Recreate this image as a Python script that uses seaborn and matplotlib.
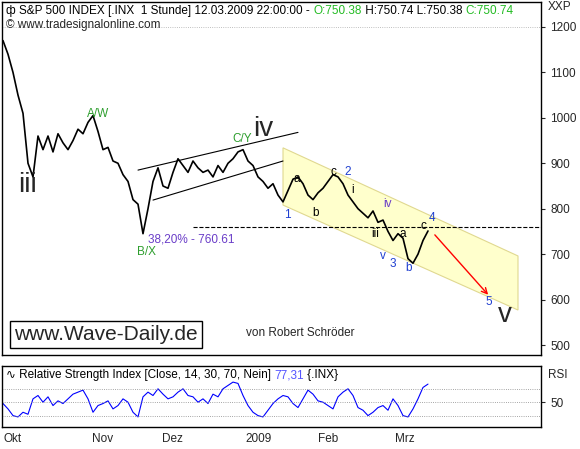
import numpy as np
import matplotlib.pyplot as plt
import seaborn as sns
from matplotlib.patches import Polygon

# hourly-ish closes of S&P 500, Oct 2008 - Mar 2009
closes = [1170, 1140, 1100, 1050, 1010, 900, 870, 960, 930, 960, 925, 965, 945, 930, 950,
          975, 965, 990, 1005, 970, 930, 935, 905, 900, 875, 860, 820, 810, 745, 800,
          860, 890, 850, 845, 880, 910, 895, 880, 905, 890, 880, 885, 870, 895, 880,
          900, 910, 925, 930, 905, 895, 870, 860, 845, 855, 830, 815, 840, 865, 870,
          855, 830, 820, 835, 845, 860, 875, 870, 855, 830, 815, 800, 790, 780, 795,
          770, 775, 750, 730, 745, 735, 690, 680, 700, 730, 751]
rsi = [48, 40, 30, 28, 35, 32, 55, 60, 50, 58, 45, 52, 48, 55, 62, 65, 68, 55, 35, 45,
       48, 52, 40, 45, 55, 50, 35, 28, 58, 65, 60, 70, 62, 55, 58, 65, 70, 60, 58, 50,
       55, 48, 62, 58, 70, 75, 80, 78, 60, 45, 35, 30, 28, 38, 48, 55, 60, 58, 48, 42,
       55, 68, 62, 52, 50, 45, 40, 58, 65, 70, 60, 42, 38, 30, 35, 42, 45, 38, 55, 45,
       30, 28, 40, 55, 72, 77]
month_labels = ['Okt', 'Nov', 'Dez', '2009', 'Feb', 'Mrz']
month_pos = [0, 17.8, 31.8, 48.4, 63, 78.4]
fib_level = 760.61

sns.set_style('white')
plt.rcParams['font.family'] = ['Liberation Sans', 'DejaVu Sans']
fig = plt.figure(figsize=(5.8, 4.49), dpi=100)
ax = fig.add_axes([2/580, 1-355/449, 539/580, 353/449])
ax2 = fig.add_axes([2/580, 1-427/449, 539/580, 61/449])
x = np.arange(len(closes))
fs = 8.5


def chain(axis, y, parts):
    # write coloured pieces one after another on one line
    fig.canvas.draw()
    r = fig.canvas.get_renderer()
    xpos = 0.008
    inv = axis.transAxes.inverted()
    for txt, col in parts:
        t = axis.text(xpos, y, txt, transform=axis.transAxes, fontsize=fs, va='center', color=col)
        bb = t.get_window_extent(r)
        xpos = inv.transform((bb.x1, bb.y0))[0]


# yellow channel
ax.add_patch(Polygon([(56, 934), (103, 696), (103, 577), (56, 808)],
                     closed=True, facecolor='#ffffcc', edgecolor='#e0d890', lw=0.8, zorder=0))
sns.lineplot(x=x, y=closes, ax=ax, color='black', lw=1.2)
# triangle lines
ax.plot([27, 59], [885, 968], color='black', lw=0.8)
ax.plot([30, 56], [819, 905], color='black', lw=0.8)
ax.plot([38, 108], [fib_level, fib_level], color='black', lw=0.8, ls='--')
ax.annotate('', xy=(97.4, 606), xytext=(86, 747),
            arrowprops=dict(arrowstyle='->', color='red', lw=1))

ax.text(4.8, 852, 'iii', fontsize=20, ha='center', va='center')
ax.text(52, 975, 'iv', fontsize=20, ha='center', va='center')
ax.text(100.4, 566, 'v', fontsize=20, ha='center', va='center')
ax.text(29, 733, '38,20% - 760.61', fontsize=fs, color='#6a3dc8', va='center')
ax.text(59.5, 520, 'von Robert Schröder', fontsize=fs, ha='center')
ax.text(2.3, 523, 'www.Wave-Daily.de', fontsize=15, va='center',
        bbox=dict(facecolor='white', edgecolor='black', pad=3))
green = '#2e9e2e'
blue = '#1f3fd0'
labels = [(19, 1008, 'A/W', green), (28.8, 705, 'B/X', green), (47.8, 953, 'C/Y', green),
          (56.8, 786, '1', blue), (58.8, 865, 'a', 'black'), (62.6, 790, 'b', 'black'),
          (66, 880, 'c', 'black'), (69, 880, '2', blue), (70, 842, 'i', 'black'),
          (74.4, 744, 'iii', 'black'), (76.8, 810, 'iv', '#6a3dc8'), (76, 697, 'v', blue),
          (78, 679, '3', blue), (80, 745, 'a', 'black'), (81.2, 670, 'b', blue),
          (84, 762, 'c', 'black'), (85.8, 780, '4', blue), (97.2, 595, '5', blue)]
for lx, ly, t, c in labels:
    ax.text(lx, ly, t, fontsize=fs, color=c, ha='center', va='center')

ax.set_xlim(-0.2, 107.6)
ax.set_ylim(478, 1255)
ax.set_yticks(range(500, 1201, 100))
ax.yaxis.tick_right()
ax.set_xticks([])
ax.axhline(1200, color='#aaaaaa', lw=0.6, ls=':')
fig.text(548/580, 1-7/449, 'XXP', fontsize=fs, va='center')

sns.lineplot(x=x, y=rsi, ax=ax2, color='blue', lw=0.8)
for lv in (30, 50, 70):
    ax2.axhline(lv, color='#888888', lw=0.6, ls=':')
ax2.set_xlim(-0.2, 107.6)
ax2.set_ylim(13, 104)
ax2.set_yticks([50])
ax2.yaxis.tick_right()
ax2.set_xticks(month_pos)
ax2.set_xticklabels(month_labels, ha='left')
ax2.tick_params(axis='x', direction='out', length=3, pad=1, labelsize=fs)
fig.text(548/580, 1-375/449, 'RSI', fontsize=fs, va='center')
for a in (ax, ax2):
    a.tick_params(axis='y', direction='out', length=3, labelsize=fs, right=True)
    for s in a.spines.values():
        s.set_color('black')
        s.set_linewidth(1)

chain(ax, 0.975, [('ф S&P 500 INDEX [.INX  1 Stunde] 12.03.2009 22:00:00 - ', 'black'),
                  ('O:750.38', '#22bb22'), (' H:750.74 L:750.38 ', 'black'),
                  ('C:750.74', '#22bb22')])
ax.text(0.008, 0.935, '\u00a9 www.tradesignalonline.com', transform=ax.transAxes,
        fontsize=fs, va='center')
chain(ax2, 0.85, [('\u223F Relative Strength Index [Close, 14, 30, 70, Nein] ', 'black'),
                  ('77,31', '#5555ff'), (' {.INX}', 'black')])

fig.savefig('out.png', dpi=100)
